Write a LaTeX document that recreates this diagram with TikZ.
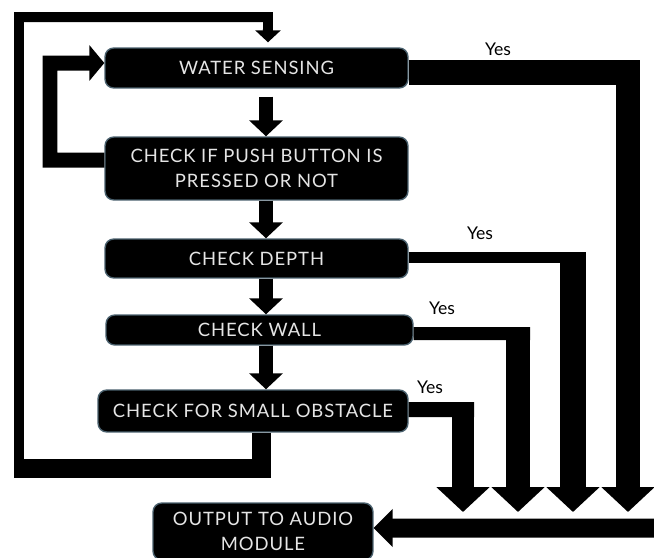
\documentclass[tikz,border=0pt]{standalone}
\usepackage{fontspec}
\setmainfont{Lato}
\newfontfamily\boxfont[LetterSpace=5]{Lato}
\usetikzlibrary{arrows.meta}

\begin{document}
\begin{tikzpicture}[x=0.02cm, y=-0.02cm,
	box/.style={draw=cyan!35!black, line width=0.8pt, fill=black, rounded corners=5pt,
		text=white!90!black, align=center, inner sep=0pt,
		font=\boxfont\fontsize{10.5}{14.5}\selectfont},
	flow/.style={line width=0.3cm, -{Triangle[width=0.66cm, length=0.32cm]}},
	yesarrow/.style={-{Triangle[width=1.04cm, length=0.5cm]}},
	yes/.style={font=\fontsize{10}{12}\selectfont}]
			\useasboundingbox (0,0) rectangle (654,558);
			
			% -- Steps --
			\node[box, minimum width=6.06cm, minimum height=0.8cm] (ws) at (256.5,68) {WATER SENSING};
			\node[box, minimum width=6.06cm, minimum height=1.26cm] (push) at (256.5,168.5) {CHECK IF PUSH BUTTON IS\\PRESSED OR NOT};
			\node[box, minimum width=6.06cm, minimum height=0.78cm] (depth) at (256.5,258.5) {CHECK DEPTH};
			\node[box, minimum width=6.14cm, minimum height=0.6cm] (wall) at (259.5,330) {CHECK WALL};
			\node[box, minimum width=6.2cm, minimum height=0.84cm] (obst) at (253,411) {CHECK FOR SMALL OBSTACLE};
			\node[box, minimum width=4.4cm, minimum height=1.14cm] (out) at (263,531.5) {OUTPUT TO AUDIO\\MODULE};
			
			% -- Main flow --
			\coordinate (ax) at (266,0);
			\draw[flow, shorten <=0.16cm] (ws.south -| ax) -- (push.north -| ax);
			\draw[flow] (push.south -| ax) -- (depth.north -| ax);
			\draw[flow] (depth.south -| ax) -- (wall.north -| ax);
			\draw[flow] (wall.south -| ax) -- (obst.north -| ax);
			
			% -- Loops back to sensing --
			\draw[line width=0.3cm, -{Triangle[width=0.7cm, length=0.3cm]}] ([yshift=0.17cm]push.west) -| (50,63) -- ([yshift=0.1cm]ws.west);
			\coordinate (corner) at (19,477);
			\draw[line width=0.38cm] ([xshift=0.18cm]obst.south) |- (14,468);
			\draw[line width=0.2cm, shorten >=0.1cm, -{Triangle[width=0.5cm, length=0.24cm]}] (corner) |- (268,17) -- ([xshift=0.23cm]ws.north);
			
			% -- Yes branches --
			\foreach \n/\x in {1/463, 2/518, 3/573, 4/628}
				\coordinate (t\n) at (\x,512);
			\draw[line width=0.5cm, yesarrow] ([yshift=-0.09cm]ws.east) -| (t4);
			\draw[line width=0.22cm] ([yshift=0.02cm]depth.east) -- (586,257.5);
			\draw[line width=0.52cm, yesarrow] (573,252) -- (t3);
			\draw[line width=0.26cm] ([yshift=-0.07cm]wall.east) -- (530,333.5);
			\draw[line width=0.5cm, yesarrow] (518,327) -- (t2);
			\draw[line width=0.3cm] ([yshift=0.03cm]obst.east) -- (474,409.5);
			\draw[line width=0.46cm, yesarrow] (463,402) -- (t1);
			\node[yes] (y1) at (498,49) {Yes};
			\node[yes] (y2) at (480,233) {Yes};
			\node[yes] (y3) at (442,308) {Yes};
			\node[yes] (y4) at (430,387) {Yes};
			
			% -- Into audio module --
			\coordinate (feed) at (660,528);
			\draw[line width=0.38cm, -{Triangle[width=0.74cm, length=0.38cm]}] (feed) -- ([yshift=0.07cm]out.east);
		\end{tikzpicture}
\end{document}
